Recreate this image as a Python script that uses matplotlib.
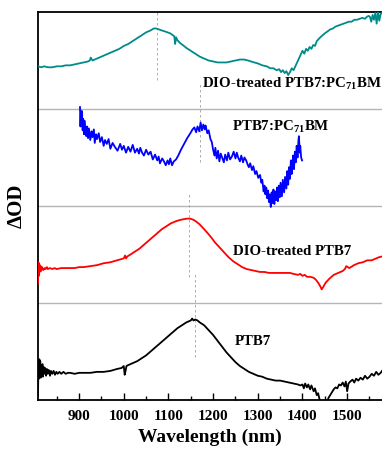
import matplotlib
matplotlib.use("Agg")
import matplotlib.pyplot as plt
from matplotlib.ticker import MultipleLocator

plt.rcParams['font.family'] = ['Liberation Serif', 'DejaVu Serif']
plt.rcParams['font.weight'] = 'bold'
plt.rcParams['mathtext.fontset'] = 'custom'
plt.rcParams['mathtext.rm'] = 'Liberation Serif:bold'
plt.rcParams['mathtext.bf'] = 'Liberation Serif:bold'
plt.rcParams['mathtext.default'] = 'bf'

# ---- data: (wavelength nm, ΔOD normalised within its stacked panel) ----
ptb7 = [(808,0.05),(809,0.39),(810,0.22),(811,0.42),(812,0.26),(813,0.40),(814,0.23),(815,0.36),
        (816,0.27),(818,0.37),(819,0.24),(821,0.34),(822,0.27),(824,0.33),(826,0.25),(828,0.32),
        (830,0.27),(832,0.31),(835,0.25),(837,0.30),(840,0.27),(843,0.30),(846,0.26),(849,0.29),
        (852,0.27),(856,0.29),(860,0.27),(865,0.29),(870,0.27),(875,0.28),(880,0.28),(890,0.27),
        (900,0.28),(910,0.28),(925,0.28),(940,0.29),(955,0.29),(970,0.30),(985,0.32),(995,0.33),
        (1000,0.35),(1002,0.26),(1004,0.30),(1006,0.35),(1010,0.36),(1020,0.38),(1030,0.40),
        (1040,0.43),(1050,0.46),(1060,0.50),(1070,0.54),(1080,0.58),(1090,0.62),(1100,0.66),
        (1110,0.70),(1120,0.74),(1130,0.77),(1140,0.80),(1145,0.81),(1150,0.82),(1153,0.84),
        (1156,0.82),(1160,0.83),(1165,0.82),(1170,0.80),(1180,0.77),(1190,0.72),(1200,0.67),
        (1210,0.61),(1220,0.55),(1230,0.49),(1240,0.44),(1250,0.39),(1260,0.35),(1270,0.32),
        (1280,0.29),(1290,0.27),(1300,0.25),(1310,0.24),(1320,0.22),(1330,0.21),(1340,0.20),
        (1350,0.20),(1360,0.19),(1370,0.18),(1380,0.17),(1390,0.16),(1395,0.15),(1400,0.16),
        (1403,0.12),(1406,0.17),(1410,0.13),(1413,0.16),(1417,0.11),(1420,0.15),(1425,0.09),
        (1428,0.12),(1432,0.05),(1435,0.07),(1438,0.01),(1442,-0.05),(1450,-0.12),(1455,-0.04),
        (1458,0.02),(1462,0.05),(1466,0.08),(1470,0.11),(1474,0.13),(1478,0.12),(1482,0.16),
        (1486,0.15),(1490,0.18),(1494,0.14),(1497,0.19),(1500,0.09),(1503,0.17),(1507,0.19),
        (1512,0.21),(1516,0.18),(1520,0.22),(1525,0.20),(1530,0.23),(1535,0.21),(1540,0.25),
        (1545,0.22),(1550,0.24),(1555,0.27),(1560,0.25),(1565,0.29),(1570,0.26),(1575,0.28),
        (1578,0.30)]

dio_ptb7 = [(808,0.20),(809,0.42),(810,0.28),(811,0.40),(812,0.32),(814,0.38),(815,0.33),
            (817,0.37),(820,0.34),(823,0.36),(825,0.35),(828,0.37),(830,0.35),(835,0.36),
            (840,0.35),(845,0.36),(850,0.35),(860,0.36),(870,0.36),(880,0.36),(890,0.36),
            (900,0.37),(910,0.37),(925,0.38),(940,0.39),(955,0.41),(970,0.42),(985,0.44),
            (1000,0.46),(1003,0.49),(1005,0.46),(1008,0.48),(1015,0.50),(1025,0.53),(1035,0.56),
            (1045,0.60),(1055,0.64),(1065,0.68),(1075,0.72),(1085,0.76),(1095,0.79),(1105,0.82),
            (1115,0.84),(1125,0.855),(1135,0.865),(1142,0.87),(1148,0.87),(1155,0.86),(1162,0.84),
            (1170,0.81),(1178,0.77),(1186,0.73),(1195,0.68),(1205,0.62),(1215,0.57),(1225,0.52),
            (1235,0.47),(1245,0.43),(1255,0.40),(1265,0.37),(1275,0.35),(1285,0.34),(1295,0.33),
            (1305,0.32),(1315,0.32),(1325,0.31),(1335,0.31),(1345,0.31),(1355,0.31),(1365,0.31),
            (1372,0.31),(1380,0.30),(1390,0.29),(1395,0.30),(1400,0.28),(1405,0.29),(1410,0.27),
            (1417,0.27),(1425,0.26),(1430,0.24),(1435,0.21),(1440,0.17),(1443,0.14),(1447,0.17),
            (1452,0.21),(1460,0.25),(1470,0.29),(1480,0.31),(1490,0.33),(1495,0.35),(1498,0.38),
            (1505,0.36),(1515,0.39),(1525,0.41),(1535,0.42),(1545,0.44),(1555,0.44),(1565,0.46),
            (1570,0.47),(1578,0.48)]

blend = [(902,1.02),(903,0.82),(904,0.95),(905,0.86),(906,0.98),(908,0.78),(909,0.90),(911,0.74),
         (912,0.88),(914,0.76),(916,0.72),(918,0.82),(920,0.70),(922,0.80),(925,0.68),(928,0.77),
         (930,0.71),(933,0.79),(935,0.65),(938,0.74),(940,0.69),(944,0.75),(947,0.66),(951,0.71),
         (955,0.62),(958,0.68),(962,0.64),(966,0.69),(970,0.59),(975,0.65),(980,0.61),(986,0.57),
         (992,0.64),(996,0.58),(1000,0.62),(1005,0.55),(1010,0.61),(1015,0.56),(1020,0.63),
         (1025,0.55),(1030,0.59),(1034,0.54),(1037,0.60),(1041,0.55),(1045,0.52),(1050,0.58),
         (1055,0.53),(1060,0.56),(1065,0.48),(1070,0.53),(1075,0.47),(1078,0.51),(1081,0.44),
         (1086,0.49),(1090,0.46),(1094,0.42),(1098,0.47),(1101,0.43),(1104,0.49),(1108,0.42),
         (1112,0.46),(1117,0.48),(1122,0.52),(1128,0.58),(1135,0.64),(1142,0.70),(1149,0.75),
         (1154,0.79),(1158,0.81),(1162,0.76),(1165,0.82),(1169,0.77),(1172,0.86),(1175,0.78),
         (1178,0.84),(1181,0.79),(1183,0.83),(1187,0.75),(1190,0.78),(1194,0.69),(1197,0.66),
         (1200,0.58),(1203,0.52),(1205,0.60),(1208,0.49),(1211,0.57),(1214,0.46),(1217,0.54),
         (1220,0.50),(1224,0.45),(1227,0.53),(1231,0.47),(1234,0.55),(1238,0.48),(1242,0.51),
         (1246,0.56),(1250,0.49),(1253,0.55),(1256,0.50),(1260,0.46),(1263,0.52),(1267,0.45),
         (1270,0.50),(1274,0.47),(1277,0.43),(1280,0.40),(1283,0.44),(1287,0.37),(1290,0.41),
         (1294,0.33),(1297,0.36),(1301,0.29),(1305,0.32),(1308,0.24),(1310,0.27),(1313,0.15),
         (1315,0.21),(1317,0.12),(1319,0.19),(1321,0.08),(1323,0.16),(1325,0.04),(1327,0.12),
         (1329,-0.01),(1331,0.14),(1333,0.03),(1335,0.17),(1337,0.02),(1339,0.15),(1341,0.06),
         (1343,0.19),(1345,0.05),(1347,0.21),(1349,0.09),(1351,0.24),(1354,0.10),(1356,0.27),
         (1359,0.14),(1361,0.30),(1364,0.18),(1366,0.36),(1368,0.22),(1370,0.40),(1372,0.28),
         (1374,0.47),(1376,0.33),(1377,0.41),(1379,0.52),(1381,0.38),(1383,0.56),(1385,0.45),
         (1387,0.62),(1389,0.50),(1391,0.68),(1392,0.72),(1394,0.55),(1395,0.62),(1397,0.50),
         (1399,0.47)]

dio_blend = [(808,0.44),(815,0.43),(822,0.44),(830,0.43),(840,0.43),(850,0.44),(860,0.44),
             (870,0.45),(880,0.45),(890,0.46),(900,0.47),(910,0.48),(920,0.49),(924,0.50),
             (926,0.53),(930,0.50),(940,0.52),(950,0.54),(960,0.56),(970,0.58),(980,0.60),
             (990,0.62),(1000,0.65),(1010,0.67),(1020,0.70),(1030,0.73),(1040,0.76),(1050,0.79),
             (1060,0.81),(1067,0.83),(1073,0.83),(1079,0.82),(1085,0.81),(1092,0.80),(1098,0.79),
             (1104,0.78),(1110,0.76),(1113,0.75),(1115,0.67),(1117,0.74),(1120,0.71),(1126,0.68),
             (1132,0.66),(1140,0.63),(1150,0.60),(1160,0.57),(1170,0.54),(1180,0.52),(1190,0.50),
             (1200,0.49),(1210,0.48),(1220,0.48),(1230,0.48),(1240,0.49),(1250,0.50),(1260,0.51),
             (1270,0.51),(1278,0.50),(1285,0.49),(1292,0.48),(1300,0.47),(1310,0.45),(1320,0.44),
             (1328,0.42),(1335,0.42),(1342,0.40),(1348,0.41),(1352,0.38),(1356,0.40),(1360,0.37),
             (1364,0.39),(1368,0.35),(1372,0.38),(1376,0.42),(1380,0.40),(1385,0.45),(1390,0.50),
             (1395,0.55),(1400,0.60),(1404,0.57),(1408,0.62),(1412,0.60),(1416,0.64),(1420,0.62),
             (1424,0.66),(1428,0.65),(1432,0.70),(1436,0.72),(1440,0.74),(1445,0.76),(1450,0.78),
             (1456,0.80),(1462,0.82),(1468,0.83),(1474,0.85),(1480,0.86),(1486,0.87),(1492,0.88),
             (1498,0.89),(1504,0.90),(1510,0.90),(1516,0.92),(1522,0.92),(1528,0.93),(1534,0.94),
             (1540,0.93),(1544,0.95),(1548,0.96),(1551,0.95),(1554,0.90),(1557,0.97),(1560,0.92),
             (1563,0.99),(1566,0.88),(1569,1.00),(1572,0.91),(1575,0.98),(1578,0.99)]

names = ["PTB7", "DIO-treated PTB7", r"PTB7:PC$_{71}$BM", r"DIO-treated PTB7:PC$_{71}$BM"]
datasets = [ptb7, dio_ptb7, blend, dio_blend]
colors = ["#000000", "#ff0000", "#0000ff", "#008b8b"]
peak_wl = [1160, 1146, 1171, 1075]
peak_span = [(0.44, 1.32), (1.27, 2.14), (2.45, 3.27), (3.30, 4.0)]
label_pos = [(1249, 0.57), (1245, 1.49), (1243, 2.77), (1176, 3.22)]

fig = plt.figure(figsize=(3.82, 4.57), dpi=100)
ax = fig.add_axes([38 / 382, 57 / 457, 1 - 38 / 382, 388 / 457])

for i, (name, data, col) in enumerate(zip(names, datasets, colors)):
    wl = [p[0] for p in data]
    od = [p[1] + i for p in data]
    ax.plot(wl, od, color=col, lw=1.3, zorder=3)
    lx, ly = label_pos[i]
    ax.text(lx, ly, name, fontsize=10.7, fontweight='bold', va='baseline', ha='left', zorder=4)
    ax.plot([peak_wl[i], peak_wl[i]], list(peak_span[i]), color='#a0a0a0', lw=0.6,
            ls=(0, (3, 3)), zorder=2)

for sep in [1, 2, 3]:
    ax.axhline(sep, color='#b5b5b5', lw=1.0, zorder=1)

ax.set_xlim(808, 1578)
ax.set_ylim(0, 4)
ax.set_yticks([])
ax.spines['right'].set_visible(False)
for s in ['left', 'top', 'bottom']:
    ax.spines[s].set_linewidth(1.3)
ax.xaxis.set_major_locator(MultipleLocator(100))
ax.xaxis.set_minor_locator(MultipleLocator(50))
ax.tick_params(axis='x', which='major', direction='in', length=5, width=1, pad=7, labelsize=11)
ax.tick_params(axis='x', which='minor', direction='in', length=3, width=1)
for lbl in ax.get_xticklabels():
    lbl.set_fontweight('bold')
ax.set_xlabel("Wavelength (nm)", fontsize=14, fontweight='bold', labelpad=4)
ax.set_ylabel("ΔOD", fontsize=15, fontweight='bold', labelpad=8)

fig.savefig("out.png", dpi=100)
